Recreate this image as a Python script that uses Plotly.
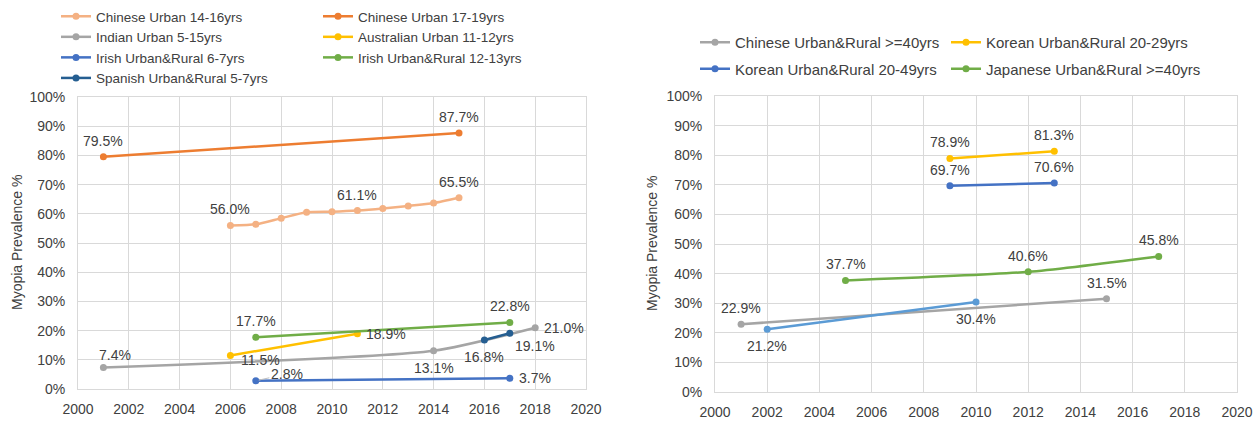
import plotly.graph_objects as go

# ---------------- data ----------------
years_cn1416 = [2006, 2007, 2008, 2009, 2010, 2011, 2012, 2013, 2014, 2015]
vals_cn1416 = [56.0, 56.4, 58.5, 60.5, 60.7, 61.1, 61.8, 62.7, 63.7, 65.5]
years_cn1719 = [2001, 2015]
vals_cn1719 = [79.5, 87.7]
years_in = [2001, 2014, 2018]
vals_in = [7.4, 13.1, 21.0]
years_au = [2006, 2011]
vals_au = [11.5, 18.9]
years_ir67 = [2007, 2017]
vals_ir67 = [2.8, 3.7]
years_ir1213 = [2007, 2017]
vals_ir1213 = [17.7, 22.8]
years_es = [2016, 2017]
vals_es = [16.8, 19.1]

years_cn40 = [2001, 2015]
vals_cn40 = [22.9, 31.5]
years_kr2029 = [2009, 2013]
vals_kr2029 = [78.9, 81.3]
years_kr2049 = [2009, 2013]
vals_kr2049 = [69.7, 70.6]
years_jp40 = [2005, 2012, 2017]
vals_jp40 = [37.7, 40.6, 45.8]
years_extra = [2002, 2010]
vals_extra = [21.2, 30.4]

x_ticks = [2000, 2002, 2004, 2006, 2008, 2010, 2012, 2014, 2016, 2018, 2020]
y_ticks = [0, 10, 20, 30, 40, 50, 60, 70, 80, 90, 100]
y_ticktext = [f"{v}%" for v in y_ticks]
y_title = "Myopia Prevalence %"

FONT = "Liberation Sans"
TXT = "#404040"
GRID = "#D9D9D9"

fig = go.Figure()

# series: name, x, y, color, axis, legend, spline, labels {index: position}
series = [
    ("Chinese Urban 14-16yrs", years_cn1416, vals_cn1416, "#F4B183", 1, "legend", True,
     {0: "top", 5: "top", 9: "top"}),
    ("Chinese Urban 17-19yrs", years_cn1719, vals_cn1719, "#ED7D31", 1, "legend2", False,
     {0: "top", 1: "top"}),
    ("Indian Urban 5-15yrs", years_in, vals_in, "#A5A5A5", 1, "legend", True,
     {0: "top74", 1: "bottom", 2: "right"}),
    ("Australian Urban 11-12yrs", years_au, vals_au, "#FFC000", 1, "legend2", False,
     {0: "rightlow", 1: "right"}),
    ("Irish Urban&Rural 6-7yrs", years_ir67, vals_ir67, "#4472C4", 1, "legend", False,
     {0: "leader", 1: "right"}),
    ("Irish Urban&Rural 12-13yrs", years_ir1213, vals_ir1213, "#70AD47", 1, "legend2", False,
     {0: "top", 1: "top"}),
    ("Spanish Urban&Rural 5-7yrs", years_es, vals_es, "#255E91", 1, "legend", False,
     {0: "bottom", 1: "bottomright"}),
    ("Chinese Urban&Rural >=40yrs", years_cn40, vals_cn40, "#A5A5A5", 2, "legend3", False,
     {0: "top", 1: "top"}),
    ("Korean Urban&Rural 20-29yrs", years_kr2029, vals_kr2029, "#FFC000", 2, "legend4", False,
     {0: "top", 1: "top"}),
    ("Korean Urban&Rural 20-49yrs", years_kr2049, vals_kr2049, "#4472C4", 2, "legend3", False,
     {0: "top", 1: "top"}),
    ("Japanese Urban&Rural >=40yrs", years_jp40, vals_jp40, "#70AD47", 2, "legend4", True,
     {0: "top", 1: "top", 2: "top"}),
    ("Korean Urban&Rural (other)", years_extra, vals_extra, "#5B9BD5", 2, None, False,
     {0: "bottom", 1: "bottom"}),
]

annotations = []
for name, xs, ys, color, ax, leg, spline, labels in series:
    xa = "x" if ax == 1 else "x2"
    ya = "y" if ax == 1 else "y2"
    tr = go.Scatter(
        x=xs, y=ys, name=name, mode="lines+markers",
        line=dict(color=color, width=2.5, shape="spline" if spline else "linear", smoothing=0.6),
        marker=dict(color=color, size=7),
        xaxis=xa, yaxis=ya,
        legendgroup=name,
        showlegend=leg is not None,
        hoverinfo="x+y+name",
    )
    if leg is not None:
        tr.legend = leg
    fig.add_trace(tr)
    for i, pos in labels.items():
        a = dict(x=xs[i], y=ys[i], xref=xa, yref=ya, text=f"{ys[i]:.1f}%",
                 showarrow=False, font=dict(family=FONT, size=14, color=TXT))
        if pos == "top":
            a.update(xanchor="center", yanchor="middle", yshift=16)
        elif pos == "top74":
            a.update(xanchor="center", yanchor="middle", yshift=12, xshift=12)
        elif pos == "bottom":
            a.update(xanchor="center", yanchor="middle", yshift=-17)
        elif pos == "right":
            a.update(xanchor="left", yanchor="middle", xshift=7)
        elif pos == "rightlow":
            a.update(xanchor="left", yanchor="middle", xshift=9, yshift=-5)
        elif pos == "bottomright":
            a.update(xanchor="left", yanchor="middle", xshift=3, yshift=-13)
        elif pos == "leader":
            a.update(showarrow=True, arrowhead=0, arrowwidth=1, arrowcolor="#BFBFBF",
                     ax=31, ay=-7, standoff=3)
        annotations.append(a)

W, H = 1260, 421

# axis titles as rotated paper annotations
for xc, (d0, d1) in ((17, (97, 389)), (652, (96, 392))):
    annotations.append(dict(
        x=xc / W, y=1 - (d0 + d1) / 2 / H, xref="paper", yref="paper",
        text=y_title, textangle=-90, showarrow=False,
        xanchor="center", yanchor="middle",
        font=dict(family=FONT, size=14, color=TXT)))

axis_common = dict(
    range=[2000, 2020], tickvals=x_ticks, showgrid=True, gridcolor=GRID, gridwidth=1,
    showline=True, linecolor=GRID, linewidth=1, mirror=True, zeroline=False,
    ticks="outside", ticklen=7, tickcolor="rgba(0,0,0,0)", automargin=False,
    tickfont=dict(family=FONT, size=14, color=TXT), fixedrange=True,
)
yaxis_common = dict(
    range=[0, 100], tickvals=y_ticks, ticktext=y_ticktext, tickmode="array",
    showgrid=True, gridcolor=GRID, automargin=False,
    gridwidth=1, showline=True, linecolor=GRID, linewidth=1, mirror=True, zeroline=False,
    ticks="outside", ticklen=9, tickcolor="rgba(0,0,0,0)",
    tickfont=dict(family=FONT, size=14, color=TXT), fixedrange=True,
)

legend_common = dict(orientation="v", bgcolor="rgba(0,0,0,0)", borderwidth=0,
                     xref="container", yref="container",
                     xanchor="left", yanchor="top", traceorder="grouped",
                     itemclick=False, itemdoubleclick=False)

fig.update_layout(
    width=W, height=H,
    margin=dict(l=0, r=0, t=0, b=0, autoexpand=False),
    paper_bgcolor="white", plot_bgcolor="white",
    font=dict(family=FONT, color=TXT),
    xaxis=dict(domain=[78 / W, 586 / W], anchor="y", **axis_common),
    yaxis=dict(domain=[1 - 389 / H, 1 - 97 / H], anchor="x", **yaxis_common),
    xaxis2=dict(domain=[715 / W, 1237 / W], anchor="y2", **axis_common),
    yaxis2=dict(domain=[1 - 392 / H, 1 - 96 / H], anchor="x2", **yaxis_common),
    legend=dict(x=56 / W, y=1 - 1 / H, tracegroupgap=0,
                font=dict(family=FONT, size=13.5, color=TXT), **legend_common),
    legend2=dict(x=318 / W, y=1 - 1 / H, tracegroupgap=0,
                 font=dict(family=FONT, size=13.5, color=TXT), **legend_common),
    legend3=dict(x=695 / W, y=1 - 26 / H, tracegroupgap=4,
                 font=dict(family=FONT, size=15, color=TXT), **legend_common),
    legend4=dict(x=946 / W, y=1 - 26 / H, tracegroupgap=4,
                 font=dict(family=FONT, size=15, color=TXT), **legend_common),
    annotations=annotations,
    showlegend=True,
)

fig.write_html(
    "out.html",
    config={"displayModeBar": False},
    post_script="document.body.style.margin='0';document.body.style.overflow='hidden';",
)
